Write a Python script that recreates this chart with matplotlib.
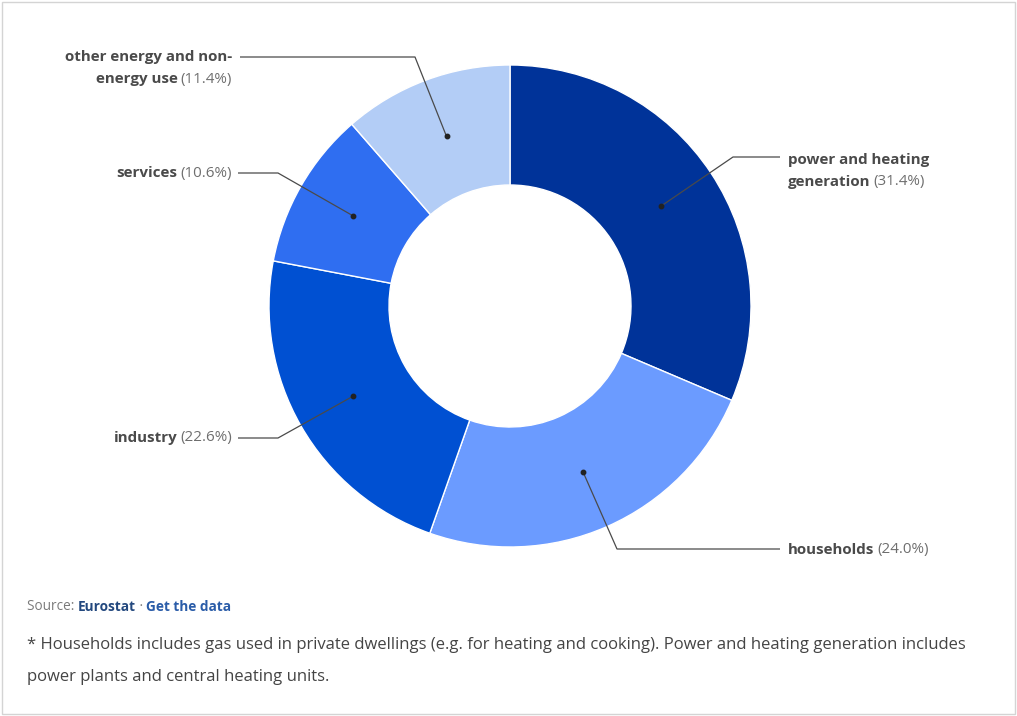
import numpy as np
import matplotlib.pyplot as plt
from matplotlib.patches import Rectangle

sectors = ['power and heating generation', 'households', 'industry',
           'services', 'other energy and non-energy use']
shares = [31.4, 24.0, 22.6, 10.6, 11.4]
colors = ['#003399', '#6b9bff', '#0050d2', '#2f6ef1', '#b3cdf6']

W, H = 1017, 716
plt.rcParams['font.family'] = ['Open Sans', 'DejaVu Sans']

fig = plt.figure(figsize=(W / 100, H / 100), dpi=100)
ax = fig.add_axes([0, 0, 1, 1])
ax.set_xlim(0, W)
ax.set_ylim(0, H)
ax.axis('off')


def Y(py):
    return H - py


cx, cy, r_out, r_in = 510, 306, 241, 121
ax.pie(shares, colors=colors, startangle=90, counterclock=False,
       center=(cx, Y(cy)), radius=r_out,
       wedgeprops=dict(width=r_out - r_in, edgecolor='white', linewidth=1))
ax.set_xlim(0, W)
ax.set_ylim(0, H)
ax.set_aspect('auto')

# frame around the whole panel
ax.add_patch(Rectangle((2, 2), W - 4, H - 4, fill=False, ec='#d4d4d4', lw=1))

# dot positions at the middle of each ring segment
cum = np.cumsum([0] + shares)
mid = (cum[:-1] + cum[1:]) / 2 / sum(shares) * 360
r_dot = (r_out + r_in) / 2
dots = [(cx + r_dot * np.sin(np.radians(a)), cy - r_dot * np.cos(np.radians(a))) for a in mid]

# leader line elbows (pixel coords): elbow point, end point
leaders = [
    [(733, 157), (780, 157)],
    [(617, 549), (780, 549)],
    [(278, 438), (238, 438)],
    [(278, 173), (238, 173)],
    [(415, 57), (240, 57)],
]
for (dx, dy), pts in zip(dots, leaders):
    xs = [dx] + [p[0] for p in pts]
    ys = [Y(dy)] + [Y(p[1]) for p in pts]
    ax.plot(xs, ys, color='#4a4a4a', lw=0.9, solid_capstyle='butt')
    ax.plot(dx, Y(dy), 'o', color='#222222', ms=3.2)

fig.canvas.draw()
renderer = fig.canvas.get_renderer()

NAME_C, PCT_C, FS = '#4a4a4a', '#6e6e6e', 10.9


def width(t):
    return t.get_window_extent(renderer).width


def label(x, py, name, pct, align):
    """Bold name plus normal percent on one line."""
    if align == 'left':
        t = ax.text(x, Y(py), name, fontsize=FS, fontweight='bold', color=NAME_C,
                    ha='left', va='center')
        ax.text(x + width(t) + 3, Y(py), pct, fontsize=FS, color=PCT_C,
                ha='left', va='center')
    else:
        t = ax.text(x, Y(py), pct, fontsize=FS, color=PCT_C, ha='right', va='center')
        ax.text(x - width(t) - 3, Y(py), name, fontsize=FS, fontweight='bold',
                color=NAME_C, ha='right', va='center')


ax.text(788, Y(160), 'power and heating', fontsize=FS, fontweight='bold',
        color=NAME_C, ha='left', va='center')
label(788, 182, 'generation', '(31.4%)', 'left')
label(788, 550, 'households', '(24.0%)', 'left')
label(232, 438, 'industry', '(22.6%)', 'right')
label(232, 173, 'services', '(10.6%)', 'right')
ax.text(232, Y(57), 'other energy and non-', fontsize=FS, fontweight='bold',
        color=NAME_C, ha='right', va='center')
label(232, 79, 'energy use', '(11.4%)', 'right')

# source line
SFS = 9.8
s = ax.text(27, Y(607), 'Source: ', fontsize=SFS, color='#7a7a7a', ha='left', va='center')
x = 27 + width(s)
s = ax.text(x, Y(607), 'Eurostat', fontsize=SFS, fontweight='bold', color='#23487e',
            ha='left', va='center')
x += width(s)
s = ax.text(x, Y(607), ' \u00b7 ', fontsize=SFS, color='#7a7a7a', ha='left', va='center')
x += width(s)
ax.text(x, Y(607), 'Get the data', fontsize=SFS, fontweight='bold', color='#2a5ca8',
        ha='left', va='center')

note = ('* Households includes gas used in private dwellings (e.g. for heating and cooking). '
        'Power and heating generation includes')
ax.text(27, Y(645), note, fontsize=12, color='#444444', ha='left', va='center')
ax.text(27, Y(677), 'power plants and central heating units.', fontsize=12,
        color='#444444', ha='left', va='center')

fig.savefig('out.png', dpi=100, facecolor='white')
